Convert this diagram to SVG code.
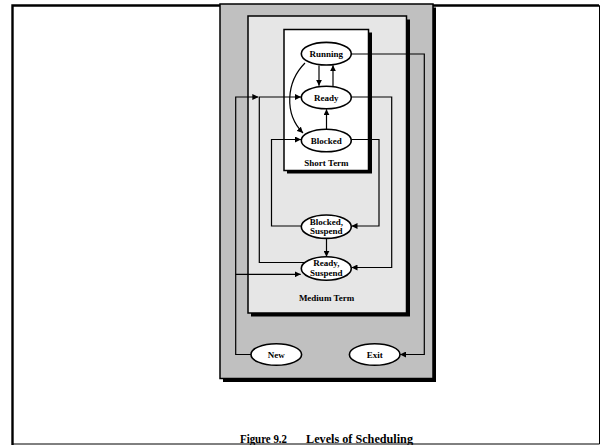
<svg xmlns="http://www.w3.org/2000/svg" width="600" height="445" viewBox="0 0 600 445">
<style>
.lbl{font-family:"Liberation Serif","Times New Roman",serif;font-weight:bold;font-size:9px;fill:#000;text-anchor:middle}
.node ellipse{fill:#fff;stroke:#000;stroke-width:1.6}
.conn path{fill:none;stroke:#000;stroke-width:1.2}
.shadow{fill:#000}
</style>
<defs>
<marker id="ah" viewBox="0 0 6 6" refX="6" refY="3" markerWidth="6" markerHeight="6" markerUnits="userSpaceOnUse" orient="auto">
<path d="M0,0 L6,3 L0,6 z" fill="#000"/>
</marker>
</defs>
<rect width="600" height="445" fill="#fff"/>
<!-- page frame -->
<path d="M12.5,445 V5.5 H599.5 V444 H12.5" fill="none" stroke="#000" stroke-width="1"/>
<path d="M12.5,445 V5.5 H599" fill="none" stroke="#000" stroke-width="2.4"/>
<!-- long-term box -->
<g id="long-term">
<rect class="shadow" x="223" y="7.5" width="213" height="374.5"/>
<rect x="220" y="4" width="213" height="374.5" fill="#c0c0c0" stroke="#000" stroke-width="1.5"/>
</g>
<!-- medium-term box -->
<g id="medium-term">
<rect class="shadow" x="251" y="19.5" width="159" height="297"/>
<rect x="248" y="16" width="158.5" height="297" fill="#e6e6e6" stroke="#000" stroke-width="1.5"/>
<text class="lbl" x="326.5" y="300.5">Medium Term</text>
</g>
<!-- short-term box -->
<g id="short-term">
<rect class="shadow" x="287" y="32.5" width="85" height="141"/>
<rect x="284" y="29.5" width="84.5" height="141" fill="#fff" stroke="#000" stroke-width="1.5"/>
<text class="lbl" x="326.5" y="165.5">Short Term</text>
</g>
<g class="conn" id="connectors">
<path d="M319,65.5 V85.8" marker-end="url(#ah)"/>
<path d="M333,86 V65.3" marker-end="url(#ah)"/>
<path d="M326.5,129 V109.2" marker-end="url(#ah)"/>
<path d="M305,63 C286,82 284,114 303,133" marker-end="url(#ah)"/>
<path d="M351,54 H424.3 V354.5 H400" marker-end="url(#ah)"/>
<path d="M251,354.5 H235.7 V97 H258.3" marker-end="url(#ah)"/>
<path d="M235.7,274.3 H300.7" marker-end="url(#ah)"/>
<path d="M304,262.5 H259.3 V97 H301" marker-end="url(#ah)"/>
<path d="M351.5,97 H391.7 V267.5 H351.5" marker-end="url(#ah)"/>
<path d="M351.5,139.5 H379 V226 H351.5" marker-end="url(#ah)"/>
<path d="M301.5,226 H271.5 V139.5 H301" marker-end="url(#ah)"/>
<path d="M326.5,238.3 V256.8" marker-end="url(#ah)"/>
</g>
<g class="node" id="running">
<ellipse cx="326.3" cy="53.7" rx="25" ry="11.3"/>
<text class="lbl" x="326.3" y="56.8">Running</text>
</g>
<g class="node" id="ready">
<ellipse cx="326.3" cy="97.5" rx="25" ry="11.3"/>
<text class="lbl" x="326.3" y="100.6">Ready</text>
</g>
<g class="node" id="blocked">
<ellipse cx="326.3" cy="140.5" rx="25" ry="11.3"/>
<text class="lbl" x="326.3" y="143.6">Blocked</text>
</g>
<g class="node" id="blocked-suspend">
<ellipse cx="326.3" cy="226.7" rx="25" ry="11.7"/>
<text class="lbl" x="326.3" y="224.6">Blocked,</text>
<text class="lbl" x="326.3" y="234">Suspend</text>
</g>
<g class="node" id="ready-suspend">
<ellipse cx="326.3" cy="268.5" rx="25" ry="11.7"/>
<text class="lbl" x="326.3" y="266.4">Ready,</text>
<text class="lbl" x="326.3" y="275.8">Suspend</text>
</g>
<g class="node" id="new">
<ellipse cx="276.3" cy="354.5" rx="25.3" ry="10.8"/>
<text class="lbl" x="276.3" y="357.6">New</text>
</g>
<g class="node" id="exit">
<ellipse cx="374.7" cy="354.5" rx="25.3" ry="10.8"/>
<text class="lbl" x="374.7" y="357.6">Exit</text>
</g>
<g id="caption">
<text x="240" y="442.5" font-family="Liberation Serif, Times New Roman, serif" font-weight="bold" font-size="11.5" textLength="47" lengthAdjust="spacingAndGlyphs">Figure 9.2</text>
<text x="306" y="442.5" font-family="Liberation Serif, Times New Roman, serif" font-weight="bold" font-size="11.5" textLength="107" lengthAdjust="spacingAndGlyphs">Levels of Scheduling</text>
</g>
</svg>
